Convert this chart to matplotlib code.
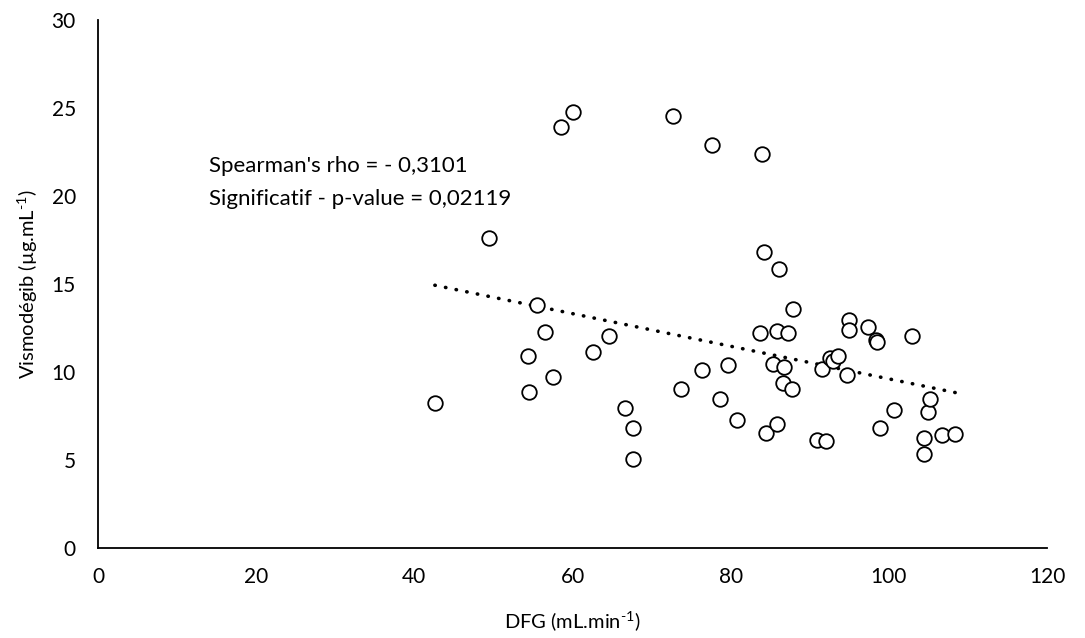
import numpy as np
import matplotlib
matplotlib.use("Agg")
import matplotlib.pyplot as plt

plt.rcParams['font.family'] = ['Lato', 'DejaVu Sans']
plt.rcParams['mathtext.fontset'] = 'custom'
plt.rcParams['mathtext.rm'] = 'Lato'

dfg = [42.6, 49.5, 54.4, 54.5, 55.5, 56.5, 57.5, 58.6, 60.0, 62.6,
       64.6, 66.6, 67.7, 67.7, 72.7, 73.7, 76.4, 77.6, 78.7, 79.7,
       80.8, 83.7, 84.0, 84.2, 84.5, 85.3, 85.8, 85.8, 86.1, 86.6,
       86.7, 87.2, 87.8, 87.9, 90.9, 91.5, 92.0, 92.6, 92.9, 93.6,
       94.7, 94.9, 94.9, 97.4, 98.4, 98.5, 98.9, 100.7, 102.9, 104.5,
       104.5, 105.0, 105.2, 106.7, 108.4]
vismo = [8.24, 17.6, 10.9, 8.85, 13.8, 12.26, 9.73, 23.94, 24.77, 11.15,
         12.03, 7.97, 6.82, 5.04, 24.56, 9.05, 10.1, 22.88, 8.47, 10.4,
         7.27, 12.2, 22.37, 16.84, 6.53, 10.45, 12.3, 7.05, 15.85, 9.35,
         10.3, 12.2, 9.05, 13.6, 6.14, 10.15, 6.08, 10.8, 10.6, 10.9,
         9.8, 12.95, 12.4, 12.56, 11.8, 11.7, 6.84, 7.84, 12.06, 6.27,
         5.34, 7.7, 8.45, 6.4, 6.5]
x_ticks = [0, 20, 40, 60, 80, 100, 120]
y_ticks = [0, 5, 10, 15, 20, 25, 30]
annot = ["Spearman's rho = - 0,3101", "Significatif - p-value = 0,02119"]

fig = plt.figure(figsize=(10.85, 6.38), dpi=100)
ax = fig.add_axes([0.0903, 0.1411, 0.8747, 0.8276])

x = np.array(dfg)
y = np.array(vismo)
ax.scatter(x, y, s=110, facecolors='white', edgecolors='black', linewidths=1.3, zorder=3)

slope, intercept = np.polyfit(x, y, 1)
xl = np.array([x.min(), x.max()])
ax.plot(xl, slope * xl + intercept, color='black', linewidth=2.6,
        linestyle=(0, (0.1, 2.9)), dash_capstyle='round', zorder=2)

ax.set_xlim(0, 120)
ax.set_ylim(0, 30)
ax.set_xticks(x_ticks)
ax.set_yticks(y_ticks)
ax.tick_params(length=0, labelsize=15, pad=14)
ax.tick_params(axis='y', pad=16)
for s in ['top', 'right']:
    ax.spines[s].set_visible(False)
for s in ['left', 'bottom']:
    ax.spines[s].set_linewidth(1.3)
    ax.spines[s].set_color('black')

ax.set_xlabel(r"DFG (mL.min$^{\text{-1}}$)", fontsize=14.5, labelpad=16)
ax.set_ylabel(r"Vismodégib (µg.mL$^{\text{-1}}$)", fontsize=14.5, labelpad=8)

ax.text(14.1, 21.7, annot[0], fontsize=16, va='center', ha='left')
ax.text(14.1, 19.85, annot[1], fontsize=16, va='center', ha='left')

fig.savefig("out.png", dpi=100)
